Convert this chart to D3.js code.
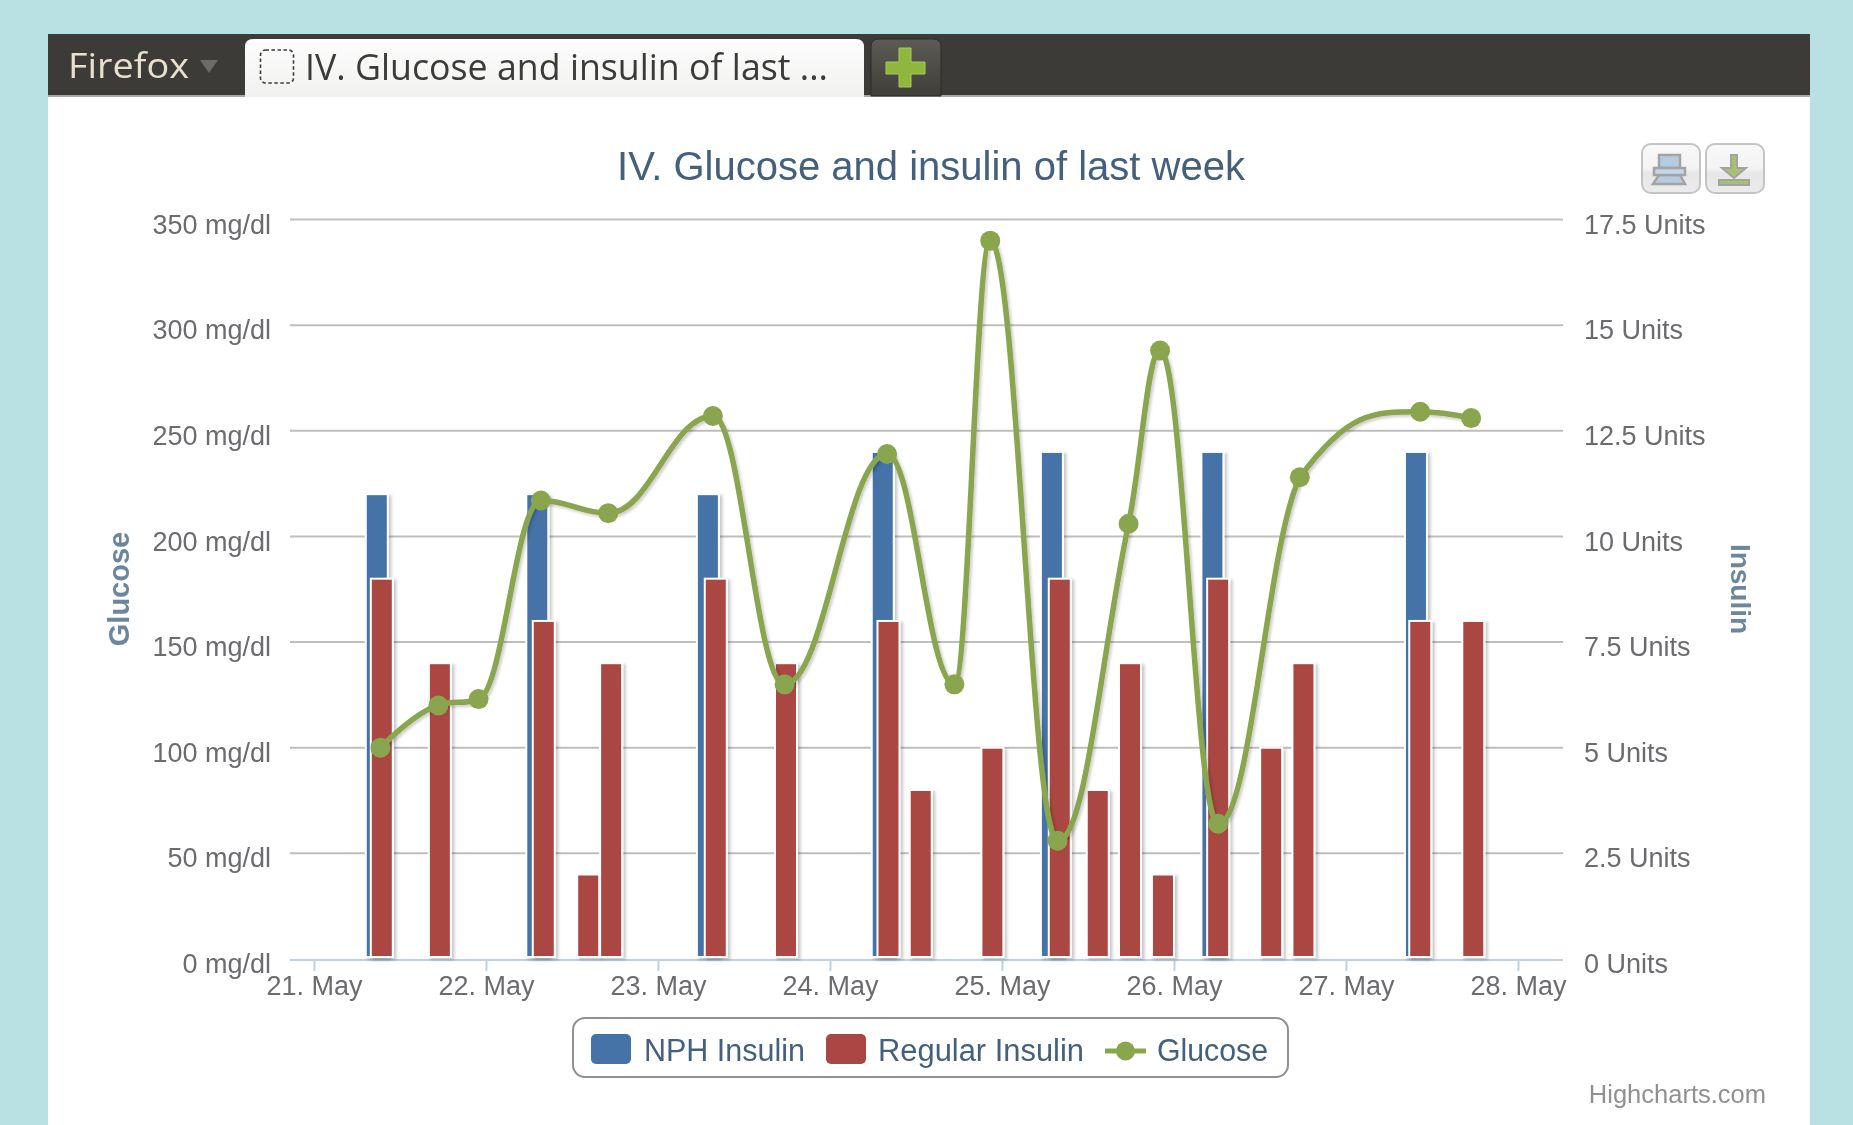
<!DOCTYPE html>
<html>
<head>
<meta charset="utf-8">
<title>IV. Glucose and insulin of last week</title>
<script src="https://cdn.jsdelivr.net/npm/d3@7"></script>
<style>
html,body{margin:0;padding:0;background:#b9e0e3;overflow:hidden}
svg{display:block;filter:blur(0.6px)}
text{font-family:"Liberation Sans",Arial,sans-serif}
</style>
</head>
<body>
<svg id="c" width="1853" height="1125"></svg>
<script>
const chartTitle = "IV. Glucose and insulin of last week";
const tabTitle = "IV. Glucose and insulin of last ...";
const glucoseTicks = [0,50,100,150,200,250,300,350];
const insulinTicks = [0,2.5,5,7.5,10,12.5,15,17.5];
const dayTicks = ["2011-05-21","2011-05-22","2011-05-23","2011-05-24","2011-05-25","2011-05-26","2011-05-27","2011-05-28"];

const nphTimes = ["21 08:54","22 07:18","23 07:06","24 07:30","25 07:06","26 05:30","27 09:54"];
const nphUnits = [11,11,11,12,12,12,12];

const regularTimes = ["21 09:36","21 17:42","22 08:12","22 14:24","22 17:36","23 08:12","23 18:00","24 08:18","24 12:48","24 22:48","25 08:12","25 13:30","25 18:00","25 22:36","26 06:18","26 13:42","26 18:12","27 10:30","27 17:54"];
const regularUnits = [9,7,8,2,7,9,7,8,4,5,9,4,7,2,9,5,7,8,8];

const glucoseTimes = ["21 09:24","21 17:30","21 23:06","22 07:48","22 17:12","23 07:48","23 17:48","24 08:06","24 17:30","24 22:30","25 07:54","25 17:48","25 22:12","26 06:18","26 17:42","27 10:30","27 17:36"];
const glucoseMgdl = [100,120,123,217,211,257,130,239,130,340,56,206,288,64,228,259,256];

const parseT = d3.timeParse("%Y-%m-%d %H:%M");
const t = s => parseT("2011-05-" + s);
const tDay = d3.timeParse("%Y-%m-%d");

const L = {left:290,right:1563,top:219.5,bottom:959,axisY:960,barW:22};
const x = d3.scaleTime().domain([tDay(dayTicks[0]), tDay(dayTicks[7])]).range([313,1517]);
const yG = d3.scaleLinear().domain([0,350]).range([L.bottom,L.top]);
const yI = d3.scaleLinear().domain([0,17.5]).range([L.bottom,L.top]);

const svg = d3.select("#c");
const defs = svg.append("defs");
const sh = defs.append("filter").attr("id","sh").attr("x","-40%").attr("y","-5%").attr("width","180%").attr("height","110%");
sh.append("feDropShadow").attr("dx",2.5).attr("dy",2).attr("stdDeviation",1.8).attr("flood-color","#000").attr("flood-opacity",.22);
const shL = defs.append("filter").attr("id","shL").attr("filterUnits","userSpaceOnUse").attr("x",0).attr("y",0).attr("width",1853).attr("height",1125);
shL.append("feDropShadow").attr("dx",2).attr("dy",2).attr("stdDeviation",1.6).attr("flood-color","#000").attr("flood-opacity",.2);
const gradTab = defs.append("linearGradient").attr("id","tab").attr("x2",0).attr("y2",1);
gradTab.append("stop").attr("offset",0).attr("stop-color","#fdfdfd");
gradTab.append("stop").attr("offset",1).attr("stop-color","#f1f1f0");
const gradPlus = defs.append("linearGradient").attr("id","plus").attr("x2",0).attr("y2",1);
gradPlus.append("stop").attr("offset",0).attr("stop-color","#5c5b56");
gradPlus.append("stop").attr("offset",1).attr("stop-color","#3f3e39");
const gradBtn = defs.append("linearGradient").attr("id","btn").attr("x2",0).attr("y2",1);
gradBtn.append("stop").attr("offset",0).attr("stop-color","#f8f8f8");
gradBtn.append("stop").attr("offset",.5).attr("stop-color","#f3f3f3");
gradBtn.append("stop").attr("offset",.6).attr("stop-color","#e6e6e6");
gradBtn.append("stop").attr("offset",1).attr("stop-color","#ececec");

// page and browser chrome
svg.append("rect").attr("width",1853).attr("height",1125).attr("fill","#b9e0e3");
svg.append("rect").attr("x",48).attr("y",34).attr("width",1762).attr("height",1091).attr("fill","#fff");
svg.append("rect").attr("x",48).attr("y",34).attr("width",1762).attr("height",63).attr("fill","#3c3b37");
svg.append("rect").attr("x",48).attr("y",95).attr("width",1762).attr("height",2).attr("fill","#a9a8a4");
svg.append("text").text("Firefox").attr("x",68).attr("y",78).attr("font-size",35).attr("fill","#e8e0cf")
  .style("font-family","'Open Sans'").attr("textLength",121).attr("lengthAdjust","spacingAndGlyphs");
svg.append("path").attr("d","M200 60h18l-9 13z").attr("fill","#6c6b67");
svg.append("path").attr("d","M245 97V47q0-8 8-8H856q8 0 8 8V97z").attr("fill","url(#tab)");
svg.append("rect").attr("x",260.5).attr("y",50).attr("width",33).attr("height",33).attr("rx",5).attr("fill","none")
  .attr("stroke","#3c3b37").attr("stroke-width",1.6).attr("stroke-dasharray","3.5 2.5");
svg.append("text").text(tabTitle).attr("x",305).attr("y",80).attr("font-size",37).attr("fill","#3c3b37")
  .style("font-family","'Open Sans'").attr("textLength",523).attr("lengthAdjust","spacingAndGlyphs");
svg.append("path").attr("d","M871 96V47q0-8 8-8H933q8 0 8 8V96z").attr("fill","url(#plus)").attr("stroke","#2e2d2a");
svg.append("path").attr("d","M899 48h12v14h14v12H911v13H899V74H886V62h13z").attr("fill","#8fb63d").attr("stroke","#a9cc5a").attr("stroke-width",1);

// grid
svg.append("g").selectAll("line").data(glucoseTicks.slice(1)).join("line")
  .attr("x1",L.left).attr("x2",L.right).attr("y1",d=>yG(d)).attr("y2",d=>yG(d))
  .attr("stroke","#bebebe").attr("stroke-width",2);

// axes
const tickFont = 27;
const tickCol = "#6c6c70";
const styleAxis = g => { g.select(".domain").remove(); g.selectAll("text").attr("fill",tickCol).attr("font-size",tickFont).style("font-family","'Liberation Sans'"); };
svg.append("g").attr("transform","translate(271,0)")
  .call(d3.axisLeft(yG).tickValues(glucoseTicks).tickSize(0).tickPadding(0).tickFormat(d=>d+" mg/dl"))
  .call(styleAxis).selectAll("text").attr("dy","0.32em").attr("y",5);
svg.append("g").attr("transform","translate(1584,0)")
  .call(d3.axisRight(yI).tickValues(insulinTicks).tickSize(0).tickPadding(0).tickFormat(d=>d+" Units"))
  .call(styleAxis).selectAll("text").attr("dy","0.32em").attr("y",5);
const xAxis = svg.append("g").attr("transform",`translate(1,${L.axisY})`)
  .call(d3.axisBottom(x).tickValues(dayTicks.map(d=>tDay(d))).tickSize(11).tickPadding(5).tickFormat(d3.timeFormat("%d. %b")));
xAxis.select(".domain").remove();
xAxis.selectAll("line").attr("stroke","#c0d0e0").attr("stroke-width",2);
xAxis.selectAll("text").attr("fill",tickCol).attr("font-size",tickFont).style("font-family","'Liberation Sans'");
svg.append("line").attr("x1",L.left).attr("x2",L.right).attr("y1",L.axisY).attr("y2",L.axisY).attr("stroke","#c0d0e0").attr("stroke-width",2);

// titles
svg.append("text").text(chartTitle).attr("x",931).attr("y",180).attr("text-anchor","middle").attr("font-size",40).attr("fill","#44607c");
svg.append("text").text("Glucose").attr("transform","translate(129,589) rotate(-90)").attr("text-anchor","middle")
  .attr("font-size",29).attr("font-weight","bold").attr("fill","#6d869f");
svg.append("text").text("Insulin").attr("transform","translate(1731,589) rotate(90)").attr("text-anchor","middle")
  .attr("font-size",28).attr("font-weight","bold").attr("fill","#6d869f");

// bars
function bars(times, values, color){
  const d = times.map((s,i)=>({t:t(s),v:values[i]}));
  svg.append("g").selectAll("rect").data(d).join("rect")
    .attr("x",p=>x(p.t)-L.barW/2).attr("width",L.barW)
    .attr("y",p=>yI(p.v)).attr("height",p=>yI(0)-yI(p.v)-2)
    .attr("fill",color).attr("stroke","#fff").attr("stroke-width",2).attr("filter","url(#sh)");
}
bars(nphTimes,nphUnits,"#4572a7");
bars(regularTimes,regularUnits,"#aa4643");

// Highcharts-style spline
function hcSpline(context){
  let pts;
  return {
    areaStart(){},areaEnd(){},
    lineStart(){pts=[];},
    point(a,b){pts.push([+a,+b]);},
    lineEnd(){
      const s=1.5,dn=2.5,ctrl=[];
      pts.forEach((p,i)=>{
        if(i===0||i===pts.length-1){ctrl.push({l:p,r:p});return;}
        const [px,py]=p,[ax,ay]=pts[i-1],[bx,by]=pts[i+1];
        let lx=(s*px+ax)/dn,ly=(s*py+ay)/dn,rx=(s*px+bx)/dn,ry=(s*py+by)/dn;
        const c=((ry-ly)*(rx-px))/(rx-lx)+py-ry;
        ly+=c;ry+=c;
        if(ly>ay&&ly>py){ly=Math.max(ay,py);ry=2*py-ly;}
        else if(ly<ay&&ly<py){ly=Math.min(ay,py);ry=2*py-ly;}
        if(ry>by&&ry>py){ry=Math.max(by,py);ly=2*py-ry;}
        else if(ry<by&&ry<py){ry=Math.min(by,py);ly=2*py-ry;}
        ctrl.push({l:[lx,ly],r:[rx,ry]});
      });
      pts.forEach((p,i)=>{
        if(i===0)context.moveTo(p[0],p[1]);
        else context.bezierCurveTo(ctrl[i-1].r[0],ctrl[i-1].r[1],ctrl[i].l[0],ctrl[i].l[1],p[0],p[1]);
      });
    }
  };
}
const gData = glucoseTimes.map((s,i)=>({t:t(s),v:glucoseMgdl[i]}));
const line = d3.line().x(d=>x(d.t)).y(d=>yG(d.v)).curve(hcSpline);
svg.append("path").datum(gData).attr("d",line).attr("fill","none").attr("stroke","#89a54e")
  .attr("stroke-width",5.5).attr("filter","url(#shL)");
svg.append("g").selectAll("circle").data(gData).join("circle")
  .attr("cx",d=>x(d.t)).attr("cy",d=>yG(d.v)).attr("r",10).attr("fill","#89a54e");

// legend
svg.append("rect").attr("x",573).attr("y",1018).attr("width",715).attr("height",59).attr("rx",12)
  .attr("fill","#fff").attr("stroke","#909090").attr("stroke-width",2);
const legendText = (s,lx,w)=>svg.append("text").text(s).attr("x",lx).attr("y",1061).attr("font-size",31).attr("fill","#44607c")
  .attr("textLength",w).attr("lengthAdjust","spacingAndGlyphs");
svg.append("rect").attr("x",591).attr("y",1034).attr("width",40).attr("height",30).attr("rx",5).attr("fill","#4572a7");
legendText("NPH Insulin",644,161);
svg.append("rect").attr("x",826).attr("y",1034).attr("width",40).attr("height",30).attr("rx",5).attr("fill","#aa4643");
legendText("Regular Insulin",878,206);
svg.append("line").attr("x1",1105).attr("x2",1146).attr("y1",1051).attr("y2",1051).attr("stroke","#89a54e").attr("stroke-width",5);
svg.append("circle").attr("cx",1125.5).attr("cy",1051).attr("r",9.5).attr("fill","#89a54e");
legendText("Glucose",1157,111);

// credits
svg.append("text").text("Highcharts.com").attr("x",1766).attr("y",1103).attr("text-anchor","end").attr("font-size",25.5).attr("fill","#909090");

// export buttons
svg.append("rect").attr("x",1642).attr("y",144).attr("width",58).attr("height",49).attr("rx",9).attr("fill","url(#btn)").attr("stroke","#c4c4c4").attr("stroke-width",2);
svg.append("rect").attr("x",1706).attr("y",144).attr("width",58).attr("height",49).attr("rx",9).attr("fill","url(#btn)").attr("stroke","#c4c4c4").attr("stroke-width",2);
const ic = svg.append("g").attr("stroke","#a3a3a3").attr("stroke-width",2.5);
ic.append("rect").attr("x",1659).attr("y",155).attr("width",21).attr("height",13).attr("fill","#b4cbe4");
ic.append("path").attr("d","M1659 175h21l5 9h-32z").attr("fill","#b4cbe4");
ic.append("rect").attr("x",1654).attr("y",168).attr("width",31).attr("height",7).attr("fill","#c3d6ec");
const ig = svg.append("g").attr("fill","#a6c26c").attr("stroke","#a3a3a3").attr("stroke-width",2);
ig.append("path").attr("d","M1731 155h6v13h9l-12 10-12-10h9z");
ig.append("rect").attr("x",1719).attr("y",180).attr("width",30).attr("height",5);
</script>
</body>
</html>
